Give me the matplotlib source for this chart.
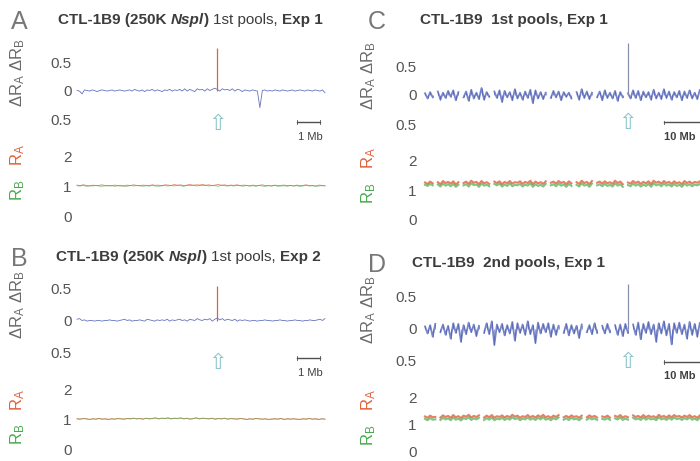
import matplotlib
matplotlib.use("Agg")
import matplotlib.pyplot as plt
import numpy as np

plt.rcParams['font.family'] = ['Liberation Sans', 'DejaVu Sans']
plt.rcParams['mathtext.fontset'] = 'custom'
plt.rcParams['mathtext.rm'] = 'Liberation Sans'
plt.rcParams['mathtext.it'] = 'Liberation Sans:italic'

# ---- data (top traces in hundredths of dR, bottom traces in hundredths of R) ----
A_top = [0, -1, -6, 1, 0, -1, 1, 0, -2, 0,
         1, 0, -1, 0, 1, -1, 0, 1, 0, -1,
         0, 1, -1, 2, 0, -1, 1, -2, 1, 0,
         2, -1, 1, 0, -2, 1, 0, 2, -1, 1,
         0, 2, -1, 3, -1, 2, 0, -2, 3, 1,
         2, -1, 3, 0, 2, 4, 2, -1, 3, 1,
         2, 0, 3, -1, 2, 1, -2, 1, 0, -1,
         1, 0, -1, -30, 0, 1, -1, 0, -1, 1,
         0, -1, 1, 0, -1, 0, 1, -1, 0, 1,
         0, -1, 1, 0, -1, 1, 0, -1, 1, -4]
A_red = [103, 101, 104, 102, 100, 103, 101, 102, 104, 101,
         102, 100, 103, 101, 102, 99, 103, 101, 104, 102,
         100, 103, 102, 101, 104, 102, 103, 100, 104, 103,
         101, 105, 102, 104, 101, 103, 105, 102, 104, 103,
         105, 102, 104, 101, 103, 105, 102, 104, 101, 103,
         102, 104, 101, 103, 102, 100, 103, 101, 102, 104,
         101, 102, 100, 103, 101, 102, 103, 101, 102, 100,
         103, 101, 102, 104, 101, 102, 100, 103, 102, 101]
A_green = [101, 100, 102, 99, 101, 100, 102, 100, 99, 101,
           100, 102, 99, 101, 100, 101, 99, 102, 100, 101,
           102, 99, 101, 100, 102, 100, 99, 102, 101, 100,
           102, 100, 103, 101, 99, 102, 101, 103, 100, 102,
           101, 103, 100, 102, 101, 99, 103, 101, 100, 102,
           100, 102, 101, 99, 102, 100, 101, 99, 102, 100,
           99, 101, 100, 102, 99, 100, 101, 99, 102, 100,
           101, 99, 100, 102, 100, 101, 99, 100, 101, 100]

B_top = [2, 3, 0, 1, -1, 0, 0, -1, 0, 0,
         -1, 0, 0, 1, 0, 0, -1, 0, 1, 2,
         0, 1, -1, 0, 0, 1, 0, -1, 2, 1,
         0, -1, 1, 0, 1, 0, 2, -1, 1, 0,
         1, 2, 0, 1, -1, 2, 1, 0, 3, 1,
         0, 2, 1, 3, -1, 2, 4, 1, 3, 0,
         2, 1, 0, 2, -1, 1, 0, 1, 0, -1,
         0, 0, -1, 0, 0, 1, 0, 0, -1, 0,
         0, 1, 0, 0, -1, 0, 0, 1, 0, 0,
         -1, 0, 0, 1, 0, 0, 1, 2, 0, 3]
B_red = [101, 100, 102, 101, 99, 101, 100, 102, 100, 101,
         99, 101, 100, 102, 101, 100, 102, 101, 103, 101,
         102, 100, 103, 101, 102, 104, 101, 103, 102, 104,
         101, 103, 102, 104, 101, 103, 100, 102, 104, 101,
         103, 102, 101, 103, 100, 102, 101, 103, 100, 102,
         101, 100, 102, 101, 99, 101, 100, 102, 101, 100,
         101, 99, 100, 101, 100, 102, 99, 101, 100, 101,
         100, 99, 101, 100, 102, 100, 101, 99, 101, 100]
B_green = [100, 99, 101, 100, 98, 100, 99, 101, 99, 100,
           98, 100, 99, 101, 100, 99, 101, 100, 102, 100,
           101, 99, 102, 100, 101, 103, 100, 102, 101, 103,
           100, 102, 101, 103, 100, 102, 99, 101, 103, 100,
           102, 101, 100, 102, 99, 101, 100, 102, 99, 101,
           100, 99, 101, 100, 98, 100, 99, 101, 100, 99,
           100, 98, 99, 100, 99, 101, 98, 100, 99, 100,
           99, 98, 100, 99, 101, 99, 100, 98, 100, 99]

C_top = [3, -6, 5, -4, None, 6, -8, 4, -5, 7,
         -3, 8, -9, 5, None, -4, 6, -10, 9, -6,
         4, -7, 12, -8, 5, -3, None, 6, -5, 8,
         -12, 7, -4, 5, -9, 10, -6, 4, -8, 6,
         -5, 9, -14, 8, -6, 5, -7, 4, None, -5,
         7, -4, 6, -9, 5, -3, 4, -6, None, 5,
         -8, 10, -5, 6, -7, 4, None, -4, 6, -9,
         8, -5, 4, -6, 7, -10, 5, -4, None, 3,
         -6, 8, -5, 7, -9, 6, -4, 5, -8, 9,
         -6, 4, -7, 10, -5, 6, -8, 5, -4, 7,
         -9, 6, -5, 8, -6, 4, -7, 9, -5, 6]
C_red = [126, 121, 129, 123, None, 127, 120, 131, 124, 128,
         122, 130, 119, 127, None, 124, 129, 121, 132, 125,
         128, 120, 131, 123, 127, 121, None, 129, 124, 130,
         120, 128, 123, 131, 122, 127, 125, 130, 121, 128,
         124, 132, 120, 129, 123, 127, 121, 130, None, 125,
         129, 122, 131, 124, 128, 120, 130, 123, None, 127,
         121, 132, 124, 128, 120, 131, None, 125, 129, 122,
         130, 123, 127, 121, 132, 124, 129, 120, None, 126,
         122, 131, 124, 129, 121, 128, 123, 130, 120, 132,
         125, 129, 122, 131, 124, 128, 121, 130, 123, 127,
         120, 131, 124, 129, 122, 128, 125, 130, 121, 128]
C_green = [118, 114, 121, 116, None, 119, 112, 122, 115, 120,
           113, 121, 111, 118, None, 116, 120, 112, 123, 117,
           119, 111, 122, 115, 118, 113, None, 121, 116, 122,
           112, 119, 114, 123, 113, 118, 116, 121, 112, 119,
           115, 123, 111, 120, 114, 118, 112, 121, None, 116,
           120, 113, 122, 115, 119, 111, 121, 114, None, 118,
           112, 123, 115, 119, 111, 122, None, 116, 120, 113,
           121, 114, 118, 112, 123, 115, 120, 111, None, 117,
           113, 122, 115, 120, 112, 119, 114, 121, 111, 123,
           116, 120, 113, 122, 115, 119, 112, 121, 114, 118,
           111, 122, 115, 120, 113, 119, 116, 121, 112, 119]

D_top = [4, -7, 6, -12, 8, None, -5, 7, -9, 5,
         -15, 9, -6, 8, -20, 6, -8, 10, -5, 7,
         -11, 5, None, -6, 9, -8, 12, -25, 7, -5,
         8, -10, 6, -7, 11, -18, 9, -6, 7, -9,
         12, -8, 6, -22, 10, -7, 8, -5, 9, -12,
         7, -9, 5, None, -6, 8, -10, 6, -7, 5,
         -14, 7, None, -5, 6, -8, 9, -6, None, 5,
         -7, 8, -5, None, 6, -9, 7, -11, 8, -6,
         None, 7, -9, 10, -16, 8, -6, 11, -8, 7,
         -20, 9, -7, 12, -10, 8, -24, 9, -6, 10,
         -8, 7, -15, 11, -9, 8, -12, 10, -7, 9]
D_red = [128, 123, 131, 125, 126, None, 124, 132, 126, 130,
         123, 133, 125, 129, 122, 131, 127, 134, 124, 130,
         126, 132, None, 124, 131, 125, 133, 123, 129, 126,
         132, 124, 130, 125, 134, 127, 131, 123, 129, 126,
         133, 125, 130, 124, 132, 126, 134, 125, 129, 123,
         131, 126, 133, None, 125, 130, 124, 132, 126, 129,
         123, 131, None, 125, 132, 126, 130, 124, None, 128,
         125, 131, 124, None, 130, 126, 133, 124, 129, 125,
         None, 132, 126, 130, 124, 133, 125, 131, 126, 129,
         123, 134, 126, 130, 124, 132, 125, 133, 127, 130,
         124, 131, 126, 133, 125, 129, 123, 132, 126, 130]
D_green = [119, 114, 122, 116, 117, None, 115, 123, 117, 121,
           114, 124, 116, 120, 113, 122, 118, 125, 115, 121,
           117, 123, None, 115, 122, 116, 124, 114, 120, 117,
           123, 115, 121, 116, 125, 118, 122, 114, 120, 117,
           124, 116, 121, 115, 123, 117, 125, 116, 120, 114,
           122, 117, 124, None, 116, 121, 115, 123, 117, 120,
           114, 122, None, 116, 123, 117, 121, 115, None, 119,
           116, 122, 115, None, 121, 117, 124, 115, 120, 116,
           None, 123, 117, 121, 115, 124, 116, 122, 117, 120,
           114, 125, 117, 121, 115, 123, 116, 124, 118, 121,
           115, 122, 117, 124, 116, 120, 114, 123, 117, 121]

# spike (index, height in dR) per panel
spikes = {'A': (56, 0.75), 'B': (56, 0.55), 'C': (79, 0.9), 'D': (79, 0.7)}
scale_labels = {'A': '1 Mb', 'B': '1 Mb', 'C': '10 Mb', 'D': '10 Mb'}

titles = {
    'A': [('CTL-1B9 (250K ', 'bold', 'normal'), ('Nspl', 'bold', 'italic'), (') ', 'bold', 'normal'),
          ('1st pools, ', 'normal', 'normal'), ('Exp 1', 'bold', 'normal')],
    'B': [('CTL-1B9 (250K ', 'bold', 'normal'), ('Nspl', 'bold', 'italic'), (') ', 'bold', 'normal'),
          ('1st pools, ', 'normal', 'normal'), ('Exp 2', 'bold', 'normal')],
    'C': [('CTL-1B9  1st pools, Exp 1', 'bold', 'normal')],
    'D': [('CTL-1B9  2nd pools, Exp 1', 'bold', 'normal')],
}

W, H = 700, 461
fig = plt.figure(figsize=(7, 4.61), dpi=100)
renderer = fig.canvas.get_renderer()

GRAY = '#555555'
BLUE = '#4a5cb4'
RED = '#e2603c'
GREEN = '#4aaa4e'


def px_axes(x0, x1, ytop, ybot):
    return fig.add_axes([x0 / W, 1 - ybot / H, (x1 - x0) / W, (ybot - ytop) / H])


def clean(ax, pad):
    for s in ax.spines.values():
        s.set_visible(False)
    ax.set_xticks([])
    ax.tick_params(axis='y', length=0, pad=pad, labelsize=11, labelcolor=GRAY)
    ax.patch.set_alpha(0)


def draw_title(x, y, pieces, size=11):
    for txt, weight, style in pieces:
        t = fig.text(x / W, 1 - y / H, txt, fontsize=size, fontweight=weight, fontstyle=style,
                     color='#3c3c3c', va='center', ha='left')
        x += t.get_window_extent(renderer).width


def to_arr(vals):
    return np.array([np.nan if v is None else v for v in vals], dtype=float) / 100.0


def panel(key, top, red, green, g):
    x0, x1 = g['x0'], g['x1']
    ax1 = px_axes(x0, x1, g['t_top'], g['t_bot'])
    ax2 = px_axes(x0, x1, g['b_top'], g['b_bot'])
    for ax in (ax1, ax2):
        clean(ax, g['pad'])

    yt = to_arr(top)
    xt = np.arange(len(yt))
    if g['dense']:
        # genome-wide view: dense trace plus fine hairs
        ax1.plot(xt, yt, color=BLUE, lw=1.3, alpha=0.75, clip_on=False)
        ax1.vlines(xt, 0, yt, color=BLUE, lw=0.6, alpha=0.7, clip_on=False)
    else:
        ax1.plot(xt, yt, color=BLUE, lw=0.6, alpha=0.85, clip_on=False)
    si, sh = spikes[key]
    scol = RED if key in 'AB' else '#8890b0'
    ax1.vlines(si, 0, sh, color=scol, lw=0.9, clip_on=False)
    ax1.set_xlim(0, len(yt) - 1)
    ax1.set_ylim(-0.5, 0.5)
    ax1.set_yticks([-0.5, 0, 0.5])
    ax1.set_yticklabels(['0.5', '0', '0.5'])

    # arrow under the spike
    ax1.text(si, g['arr_y'], '\u21e7', ha='center', va='center', fontsize=16, color='#8ec6cc',
             family='DejaVu Sans', clip_on=False)
    # scale bar
    b0, b1 = g['bar']
    by = g['bar_y']
    ax1.plot([b0, b1], [by, by], color='#505050', lw=1.0, clip_on=False)
    ax1.plot([b0, b0], [by + 0.03, by - 0.03], color='#505050', lw=0.6, clip_on=False)
    ax1.plot([b1, b1], [by + 0.03, by - 0.03], color='#505050', lw=0.6, clip_on=False)
    ax1.text(g['bar_tx'], g['txt_y'], scale_labels[key], ha=g['bar_ha'], va='center', fontsize=8,
             color='#404040', fontweight=g['bar_w'], clip_on=False)

    yr = to_arr(red)
    yg = to_arr(green)
    ax2.plot(np.arange(len(yr)), yr, color=RED, lw=g['blw'], alpha=0.8, clip_on=False)
    ax2.plot(np.arange(len(yg)), yg, color=GREEN, lw=g['blw'], alpha=0.7, clip_on=False)
    ax2.set_xlim(0, len(yr) - 1)
    ax2.set_ylim(0, 2)
    ax2.set_yticks([0, 1, 2])
    ax2.set_yticklabels(['0', '1', '2'])

    # side labels
    fig.text(g['lab_x'] / W, 1 - g['dr_y'] / H, r'$\Delta\mathrm{R}_\mathrm{A}\ \Delta\mathrm{R}_\mathrm{B}$',
             rotation=90, ha='center', va='center', fontsize=12, color='#6a6a6a')
    fig.text(g['lab_x'] / W, 1 - g['ra_y'] / H, r'$\mathrm{R}_\mathrm{A}$', rotation=90,
             ha='center', va='center', fontsize=12, color=RED)
    fig.text(g['lab_x'] / W, 1 - g['rb_y'] / H, r'$\mathrm{R}_\mathrm{B}$', rotation=90,
             ha='center', va='center', fontsize=12, color=GREEN)

    fig.text(g['let_x'] / W, 1 - g['let_y'] / H, key, fontsize=18, color='#777777',
             ha='left', va='center')
    draw_title(g['title_x'], g['let_y'] - 2, titles[key])


geo = {
    'A': dict(x0=77, x1=325, t_top=62, t_bot=119, b_top=156, b_bot=216, pad=4, dense=False,
              blw=0.6, bar=(88, 97), bar_y=-0.55, txt_y=-0.82, arr_y=-0.58,
              bar_tx=98, bar_ha='right', bar_w='normal',
              lab_x=18, dr_y=73, ra_y=155, rb_y=190, let_x=11, let_y=22, title_x=58),
    'B': dict(x0=77, x1=325, t_top=289, t_bot=352, b_top=389, b_bot=449, pad=4, dense=False,
              blw=0.6, bar=(88, 97), bar_y=-0.6, txt_y=-0.83, arr_y=-0.67,
              bar_tx=98, bar_ha='right', bar_w='normal',
              lab_x=18, dr_y=305, ra_y=400, rb_y=434, let_x=11, let_y=259, title_x=56),
    'C': dict(x0=425, x1=705, t_top=66, t_bot=124, b_top=161, b_bot=219, pad=6, dense=True,
              blw=1.5, bar=(93, 112), bar_y=-0.47, txt_y=-0.72, arr_y=-0.48,
              bar_tx=93, bar_ha='left', bar_w='bold',
              lab_x=369, dr_y=76, ra_y=158, rb_y=193, let_x=368, let_y=22, title_x=420),
    'D': dict(x0=425, x1=705, t_top=297, t_bot=361, b_top=397, b_bot=451, pad=6, dense=True,
              blw=1.5, bar=(93, 112), bar_y=-0.52, txt_y=-0.74, arr_y=-0.52,
              bar_tx=93, bar_ha='left', bar_w='bold',
              lab_x=369, dr_y=310, ra_y=400, rb_y=435, let_x=368, let_y=265, title_x=412),
}

panel('A', A_top, A_red, A_green, geo['A'])
panel('B', B_top, B_red, B_green, geo['B'])
panel('C', C_top, C_red, C_green, geo['C'])
panel('D', D_top, D_red, D_green, geo['D'])

fig.savefig('out.png', dpi=100)
